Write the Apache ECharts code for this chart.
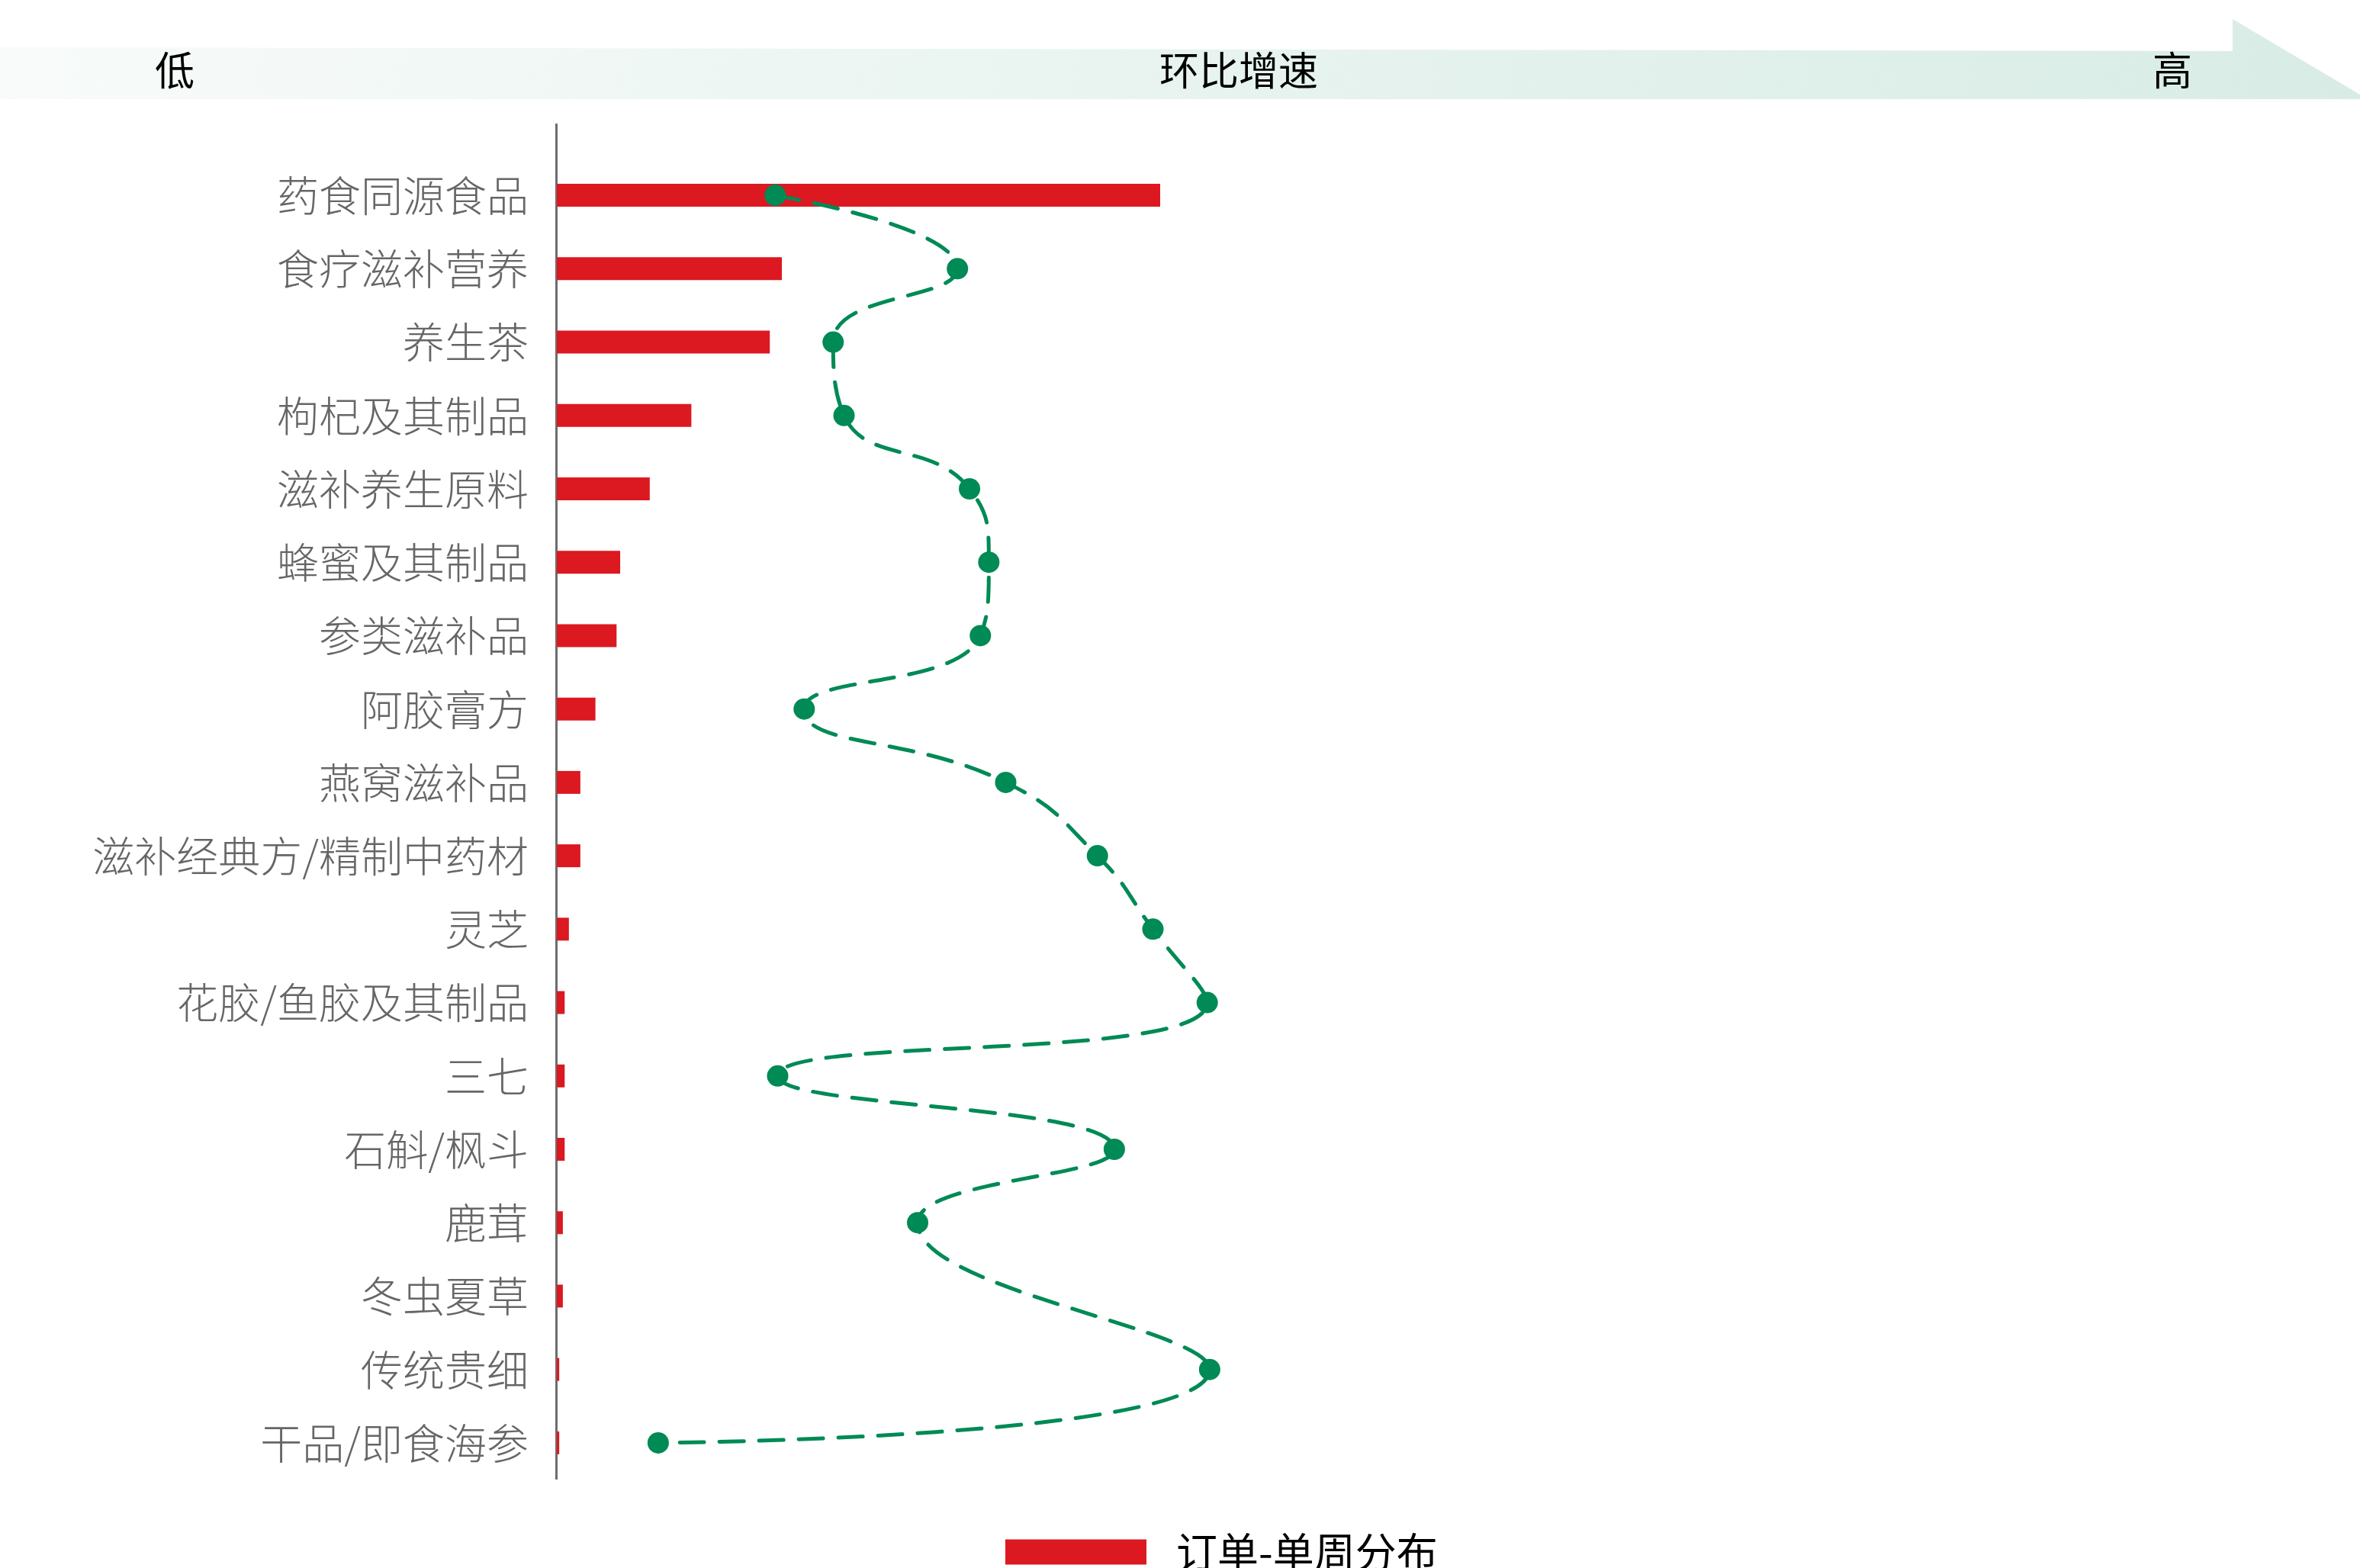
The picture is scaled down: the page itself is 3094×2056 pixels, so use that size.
<!DOCTYPE html>
<html>
<head>
<meta charset="utf-8">
<script src="https://cdn.jsdelivr.net/npm/echarts@6/dist/echarts.min.js"></script>
<style>
  html, body { margin: 0; padding: 0; background: #fff; }
  #chart { width: 3094px; height: 2056px; }
</style>
</head>
<body>
<div id="chart"></div>
<script>
// categories, top to bottom
var categories = ['药食同源食品','食疗滋补营养','养生茶','枸杞及其制品','滋补养生原料','蜂蜜及其制品','参类滋补品','阿胶膏方','燕窝滋补品','滋补经典方/精制中药材','灵芝','花胶/鱼胶及其制品','三七','石斛/枫斗','鹿茸','冬虫夏草','传统贵细','干品/即食海参'];
// 订单-单周分布 (relative, top category = 100)
var orderShare = [100, 37.3, 35.3, 22.3, 15.4, 10.5, 9.9, 6.4, 3.9, 3.9, 2.0, 1.3, 1.3, 1.3, 1.0, 1.0, 0.4, 0.4];
// 环比增速 (relative position, low -> high); 冬虫夏草 has no point
var growth = [18.1, 33.2, 22.9, 23.8, 34.2, 35.8, 35.1, 20.5, 37.2, 44.8, 49.4, 53.9, 18.3, 46.2, 29.9, null, 54.1, 8.4];
var legendName = '订单-单周分布';
var bannerTexts = ['低', '环比增速', '高'];

var font = '"Noto Sans CJK SC", "Noto Sans", sans-serif';

var option = {
  backgroundColor: '#ffffff',
  animation: false,
  grid: { left: 730, top: 208, width: 1582, height: 1732 },
  legend: {
    data: [legendName],
    left: 1313,
    top: 2003,
    icon: 'rect',
    itemWidth: 185,
    itemHeight: 33,
    textStyle: { fontSize: 54, color: '#000', fontFamily: font, padding: [0, 0, 0, 34] }
  },
  xAxis: [
    { type: 'value', min: 0, max: 200, show: false },
    { type: 'value', min: 0, max: 100, show: false }
  ],
  yAxis: {
    type: 'category',
    data: categories,
    inverse: true,
    axisLine: { show: false },
    axisTick: { show: false },
    splitLine: { show: false },
    axisLabel: { fontSize: 55, color: '#666666', margin: 37, fontFamily: font, fontWeight: 300 }
  },
  graphic: [
    {
      type: 'polygon',
      silent: true,
      shape: { points: [[0, 62], [2927, 67], [2927, 25], [3094, 124], [3094, 130], [0, 130]] },
      style: {
        fill: {
          type: 'linear', x: 0, y: 0, x2: 1, y2: 0,
          colorStops: [{ offset: 0, color: '#f8fbfa' }, { offset: 1, color: '#d8ece5' }]
        }
      }
    },
    { type: 'text', x: 229, y: 92, style: { text: bannerTexts[0], fontSize: 52, fill: '#000', fontFamily: font, align: 'center', verticalAlign: 'middle' } },
    { type: 'text', x: 1624, y: 92, style: { text: bannerTexts[1], fontSize: 52, fill: '#000', fontFamily: font, align: 'center', verticalAlign: 'middle' } },
    { type: 'text', x: 2848, y: 92, style: { text: bannerTexts[2], fontSize: 52, fill: '#000', fontFamily: font, align: 'center', verticalAlign: 'middle' } },
    { type: 'line', silent: true, shape: { x1: 729.5, y1: 162, x2: 729.5, y2: 1940 }, style: { stroke: '#6d6d6d', lineWidth: 3 } }
  ],
  series: [
    {
      name: legendName,
      type: 'bar',
      xAxisIndex: 0,
      data: orderShare,
      barWidth: 30,
      itemStyle: { color: '#dc1820' }
    },
    {
      name: '环比增速',
      type: 'line',
      xAxisIndex: 1,
      data: growth,
      connectNulls: true,
      smooth: 0.5,
      symbol: 'circle',
      symbolSize: 28,
      itemStyle: { color: '#008a55' },
      lineStyle: { color: '#008a55', width: 5, type: [32, 20], cap: 'round' },
      z: 5
    }
  ]
};

var myChart = echarts.init(document.getElementById('chart'));
myChart.setOption(option);
</script>
</body>
</html>
